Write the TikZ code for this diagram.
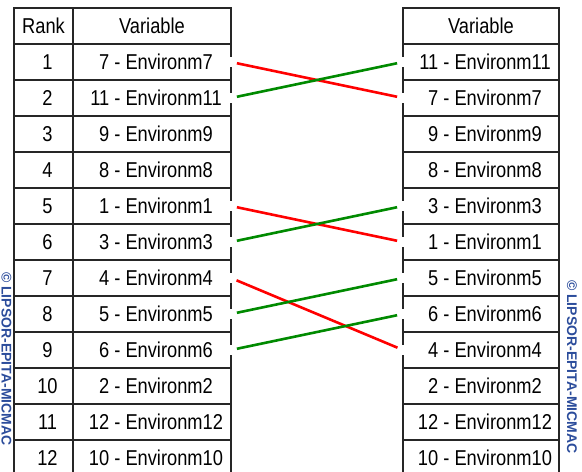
\documentclass[tikz,border=0pt]{standalone}
\usepackage{fontspec}
\setmainfont{Liberation Sans}[FakeStretch=0.85]
\newfontfamily\markfont{Liberation Sans}
\usepackage{xcolor}
\definecolor{linkred}{HTML}{FF0000}
\definecolor{linkgreen}{HTML}{008A00}
\definecolor{markblue}{HTML}{2B4C9B}
\definecolor{gridline}{HTML}{262626}
\usetikzlibrary{positioning}

\begin{document}
\begin{tikzpicture}[x=1pt, y=-1pt,
      node distance=0pt,
      cell/.style={draw=gridline, line width=1.6pt, outer sep=0pt, inner sep=0pt, minimum height=36pt, font=\fontsize{21.5}{21.5}\selectfont},
      rankcell/.style={cell, minimum width=59pt},
      lvarcell/.style={cell, minimum width=158pt},
      rvarcell/.style={cell, minimum width=156pt},
      datacell/.style={execute at begin node={\hspace*{8pt}}},
      link/.style={line width=2.6pt, shorten <=6pt, shorten >=6pt},
      cut/.style={draw=white, line width=3pt},
      stamp/.style={text=markblue, inner sep=0pt, font=\markfont\bfseries\fontsize{14}{14}\selectfont}]
    \useasboundingbox (0,0) rectangle (582,472);
    \clip (0,0) rectangle (582,472);
    % header cells
    \node[rankcell, anchor=north west] (rank0) at (14,8) {Rank};
    \node[lvarcell, right=of rank0] (lvar0) {Variable};
    \node[rvarcell, anchor=north west] (rvar0) at (403,8) {Variable};
    % left table: ranking before
    \foreach \v [count=\i, evaluate=\i as \j using int(\i-1)] in {7,11,9,8,1,3,4,5,6,2,12,10} {
      \node[rankcell, datacell, below=of rank\j] (rank\i) {\i};
      \node[lvarcell, datacell, below=of lvar\j] (lvar\i) {\v\ - Environm\v};
    }
    % right table: ranking after
    \foreach \v [count=\i, evaluate=\i as \j using int(\i-1)] in {11,7,9,8,3,1,5,6,4,2,12,10}
      \node[rvarcell, datacell, below=of rvar\j] (rvar\i) {\v\ - Environm\v};
    % gaps in the borders where links start
    \foreach \i in {1,2,5,6,7,8,9} {
      \draw[cut] ([yshift=5pt]lvar\i.east) -- ([yshift=-5pt]lvar\i.east);
      \draw[cut] ([yshift=5pt]rvar\i.west) -- ([yshift=-5pt]rvar\i.west);
    }
    % rank changes
    \draw[link, linkred] (lvar1.east) -- (rvar2.west);
    \draw[link, linkgreen] (lvar2.east) -- (rvar1.west);
    \draw[link, linkred] (lvar5.east) -- (rvar6.west);
    \draw[link, linkgreen] (lvar6.east) -- (rvar5.west);
    \draw[link, linkred] (lvar7.east) -- (rvar9.west);
    \draw[link, linkgreen] (lvar8.east) -- (rvar7.west);
    \draw[link, linkgreen] (lvar9.east) -- (rvar8.west);
    % watermarks
    \node[stamp, anchor=west, rotate=-90] (markl) at (6.5,272) {© LIPSOR-EPITA-MICMAC};
    \node[stamp, anchor=west, rotate=-90] (markr) at (572,280) {© LIPSOR-EPITA-MICMAC};
  \end{tikzpicture}
\end{document}
